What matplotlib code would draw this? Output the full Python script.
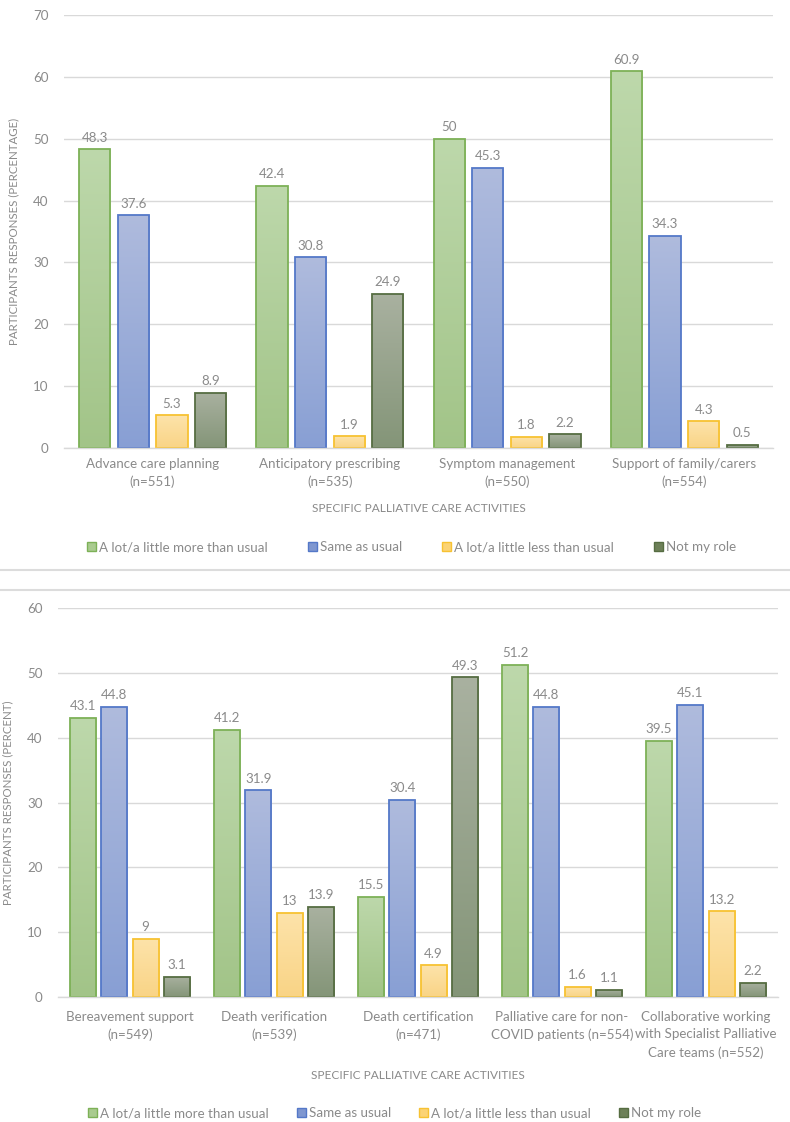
import numpy as np
import matplotlib
matplotlib.use("Agg")
import matplotlib.pyplot as plt
from matplotlib.colors import LinearSegmentedColormap
from matplotlib.patches import Patch
from matplotlib.lines import Line2D

plt.rcParams['font.family'] = ['Lato', 'DejaVu Sans']

# ---------------- data ----------------
series = ["A lot/a little more than usual", "Same as usual",
          "A lot/a little less than usual", "Not my role"]

cats1 = ["Advance care planning\n(n=551)", "Anticipatory prescribing\n(n=535)",
         "Symptom management\n(n=550)", "Support of family/carers\n(n=554)"]
more1 = [48.3, 42.4, 50, 60.9]
same1 = [37.6, 30.8, 45.3, 34.3]
less1 = [5.3, 1.9, 1.8, 4.3]
notrole1 = [8.9, 24.9, 2.2, 0.5]
labels1 = [["48.3", "42.4", "50", "60.9"], ["37.6", "30.8", "45.3", "34.3"],
           ["5.3", "1.9", "1.8", "4.3"], ["8.9", "24.9", "2.2", "0.5"]]

cats2 = ["Bereavement support\n(n=549)", "Death verification\n(n=539)",
         "Death certification\n(n=471)", "Palliative care for non-\nCOVID patients (n=554)",
         "Collaborative working\nwith Specialist Palliative\nCare teams (n=552)"]
more2 = [43.1, 41.2, 15.5, 51.2, 39.5]
same2 = [44.8, 31.9, 30.4, 44.8, 45.1]
less2 = [9, 13, 4.9, 1.6, 13.2]
notrole2 = [3.1, 13.9, 49.3, 1.1, 2.2]
labels2 = [["43.1", "41.2", "15.5", "51.2", "39.5"], ["44.8", "31.9", "30.4", "44.8", "45.1"],
           ["9", "13", "4.9", "1.6", "13.2"], ["3.1", "13.9", "49.3", "1.1", "2.2"]]

# ---------------- style ----------------
tops = ["#bdd8ab", "#afbbdd", "#fde3aa", "#a9b1a0"]
bottoms = ["#a2c488", "#889fd4", "#f9d486", "#849578"]
edges = ["#7db157", "#5478c8", "#f7c232", "#566d42"]
mids = ["#a9cb8f", "#7f97d0", "#fbd375", "#6d8058"]
TXT = "#8a8a8a"
GRID = "#d9d9d9"
FS = 9.6

W, H = 790, 1122
fig = plt.figure(figsize=(W / 100, H / 100), dpi=100)


def px_axes(left, right, top, bottom):
    return fig.add_axes([left / W, 1 - bottom / H, (right - left) / W, (bottom - top) / H])


def draw_panel(ax, cats, data, labels, ymax, ylabel, step, width, xpad):
    n = len(cats)
    x = np.arange(n)
    grad = np.linspace(0, 1, 256).reshape(-1, 1)
    for i, vals in enumerate(data):
        pos = x + (i - 1.5) * step
        bars = ax.bar(pos, vals, width, facecolor='none', edgecolor=edges[i],
                      linewidth=1.3, zorder=3)
        cmap = LinearSegmentedColormap.from_list('g%d' % i, [bottoms[i], tops[i]])
        for b, lab in zip(bars, labels[i]):
            x0, y0 = b.get_x(), b.get_y()
            bw, bh = b.get_width(), b.get_height()
            im = ax.imshow(grad, extent=[x0, x0 + bw, y0, y0 + bh], origin='lower',
                           cmap=cmap, aspect='auto', zorder=2, interpolation='bilinear')
            im.set_clip_path(b)
            ax.annotate(lab, (x0 + bw / 2, y0 + bh), xytext=(0, 4),
                        textcoords='offset points', ha='center', va='bottom',
                        fontsize=FS, color=TXT)
    ax.set_xlim(-0.5, n - 0.5)
    ax.set_ylim(0, ymax)
    ax.set_aspect('auto')
    ax.set_yticks(np.arange(0, ymax + 1, 10))
    ax.set_xticks(x)
    ax.set_xticklabels(cats, fontsize=FS, color=TXT, linespacing=1.55)
    ax.tick_params(axis='both', length=0, labelsize=FS, labelcolor=TXT)
    ax.tick_params(axis='x', pad=xpad)
    ax.tick_params(axis='y', pad=11)
    ax.grid(axis='y', color=GRID, linewidth=1.0, zorder=0)
    ax.set_axisbelow(True)
    for s in ['top', 'right', 'left']:
        ax.spines[s].set_visible(False)
    ax.spines['bottom'].set_color(GRID)
    ax.spines['bottom'].set_linewidth(1.0)
    ax.spines['bottom'].set_zorder(4)
    ax.set_ylabel(ylabel, fontsize=8.3, color=TXT, labelpad=10)
    ax.set_xlabel("SPECIFIC PALLIATIVE CARE ACTIVITIES", fontsize=8.6, color=TXT)


ax1 = px_axes(64, 773, 15, 448)
draw_panel(ax1, cats1, [more1, same1, less1, notrole1], labels1, 70,
           "PARTICIPANTS RESPONSES (PERCENTAGE)", 0.218, 0.176, 7)
ax1.xaxis.set_label_coords(0.5, -0.128)

ax2 = px_axes(58, 778, 608, 997)
draw_panel(ax2, cats2, [more2, same2, less2, notrole2], labels2, 60,
           "PARTICIPANTS RESPONSES (PERCENT)", 0.217, 0.182, 10)
ax2.xaxis.set_label_coords(0.5, -0.187)

handles = [Patch(facecolor=mids[i], edgecolor=edges[i], linewidth=1.0) for i in range(4)]
for yc, xc, cs in [(547, 412, 3.0), (1113, 395, 2.1)]:
    fig.legend(handles, series, loc='center', bbox_to_anchor=(xc / W, 1 - yc / H),
               ncol=4, frameon=False, fontsize=FS, labelcolor=TXT,
               handlelength=0.65, handleheight=0.65, handletextpad=0.25,
               columnspacing=cs)

# separator lines between the two charts
for yp in (570, 590):
    fig.add_artist(Line2D([0, 1], [1 - yp / H, 1 - yp / H], transform=fig.transFigure,
                          color="#dcdcdc", linewidth=1.5))

fig.savefig("out.png", dpi=100)
